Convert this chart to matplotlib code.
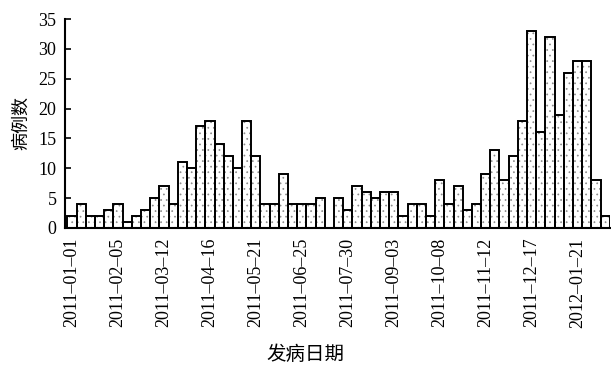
import datetime as dt
import numpy as np
import matplotlib
matplotlib.use("Agg")
import matplotlib.pyplot as plt

# weekly case counts, first week starting 2011-01-01
start = dt.date(2011, 1, 1)
cases = [2, 4, 2, 2, 3, 4, 1, 2, 3, 5,
         7, 4, 11, 10, 17, 18, 14, 12, 10, 18,
         12, 4, 4, 9, 4, 4, 4, 5, 0, 5,
         3, 7, 6, 5, 6, 6, 2, 4, 4, 2,
         8, 4, 7, 3, 4, 9, 13, 8, 12, 18,
         33, 16, 32, 19, 26, 28, 28, 8, 2]
yticks = [0, 5, 10, 15, 20, 25, 30, 35]

weeks = [start + dt.timedelta(days=7 * i) for i in range(len(cases))]
x = np.arange(len(cases))
tick_idx = x[::5][:12]
tick_labels = [weeks[i].strftime("%Y–%m–%d") for i in tick_idx]

plt.rcParams['hatch.linewidth'] = 0.5
serif = "Liberation Serif"
cjk = ["Noto Sans CJK SC", "DejaVu Sans"]

fig = plt.figure(figsize=(6.11, 3.67), dpi=100)
ax = fig.add_axes([0.106, 0.379, 0.892, 0.569])

# dotted fill first (grey dots), then the black outlines on top
ax.bar(x, cases, width=1.0, color="white", edgecolor="#8a8a8a",
       linewidth=0, hatch="...")
ax.bar(x, cases, width=1.0, fill=False, edgecolor="black", linewidth=1.4)

ax.set_xlim(-0.79, len(cases) - 0.5)
ax.set_ylim(0, 35)
ax.set_yticks(yticks)
ax.set_yticklabels([str(v) for v in yticks], family=serif, fontsize=13)
ax.set_xticks(tick_idx)
ax.set_xticklabels(tick_labels, rotation=90, family=serif, fontsize=13)
ax.tick_params(axis="y", direction="in", length=4, width=1.2, pad=6)
ax.tick_params(axis="x", length=0, pad=7)

for s in ("top", "right"):
    ax.spines[s].set_visible(False)
for s in ("left", "bottom"):
    ax.spines[s].set_linewidth(1.5)

ax.set_ylabel("病例数", family=cjk, fontsize=13, labelpad=6)
fig.text(0.5, 0.035, "发病日期", family=cjk, fontsize=14, ha="center", va="center")

fig.savefig("out.png", dpi=100)
